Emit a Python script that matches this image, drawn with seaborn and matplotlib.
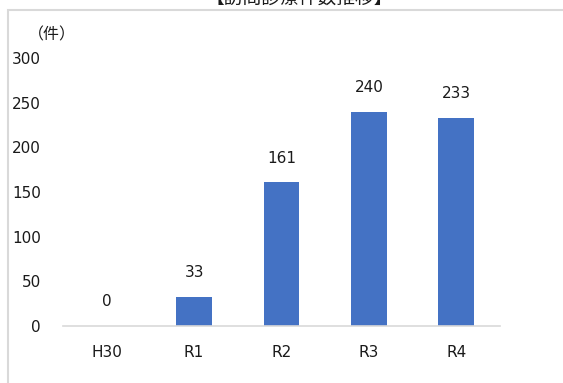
import pandas as pd
import seaborn as sns
import matplotlib.pyplot as plt
from matplotlib.patches import Rectangle

# データ
years = ['H30', 'R1', 'R2', 'R3', 'R4']
counts = [0, 33, 161, 240, 233]

df = pd.DataFrame({'year': years, 'count': counts})

sns.set_style("white")
plt.rcParams['font.family'] = ['DejaVu Sans', 'Noto Sans CJK JP']

fig = plt.figure(figsize=(5.63, 3.83), dpi=100)
ax = fig.add_axes([63 / 563, 57 / 383, 437 / 563, 268 / 383])

sns.barplot(x='year', y='count', data=df, color='#4472C4', saturation=1,
            width=0.41, linewidth=0, ax=ax)

ax.set_ylim(0, 300)
ax.set_yticks(range(0, 301, 50))
ax.set_xlim(-0.5, 4.5)
ax.set_xlabel('')
ax.set_ylabel('')

for s in ['top', 'right', 'left']:
    ax.spines[s].set_visible(False)
ax.spines['bottom'].set_color('#D9D9D9')
ax.spines['bottom'].set_linewidth(1.2)

ax.tick_params(axis='both', length=0, labelsize=11, colors='#1a1a1a')
ax.tick_params(axis='y', pad=16)
ax.tick_params(axis='x', pad=14)

ax.bar_label(ax.containers[0], padding=12, fontsize=11, color='#1a1a1a')

# 単位
fig.text(28 / 563, 1 - 35 / 383, '（件）', fontsize=11.5, color='#1a1a1a',
         family=['Noto Sans CJK JP', 'DejaVu Sans'], va='center', ha='left')

# タイトル（上端で切れている）
fig.text(299 / 563, 1 + 2 / 383, '【訪問診療件数推移】', fontsize=13.5,
         color='#1a1a1a', family=['Noto Sans CJK JP', 'DejaVu Sans'],
         va='center', ha='center')

# 枠線
fig.patches.append(Rectangle((8 / 563, -0.1), 1.2, 1 - 10 / 383 + 0.1,
                             transform=fig.transFigure, fill=False,
                             edgecolor='#D9D9D9', linewidth=1.5))

fig.savefig('out.png', dpi=100)
